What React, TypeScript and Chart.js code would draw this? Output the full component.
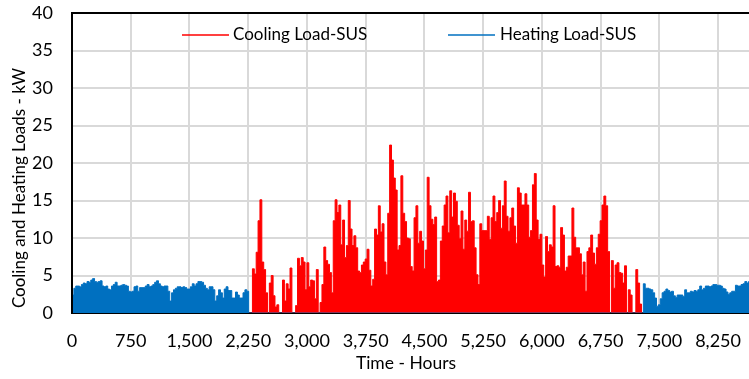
import React, { useEffect, useRef } from "react";
import { Chart, registerables } from "chart.js";

Chart.register(...registerables);

// ---- data (daily peak loads, kW) ----
const HOURS_PER_DAY = 24;
const DAYS_IN_YEAR = 365;
const seriesNames = ["Cooling Load-SUS", "Heating Load-SUS"];

const COOLING_START_DAY = 96;
const coolingDailyPeak = [
  5.9, 5.2, 8.1, 12.3, 15.1, 6.8, 5.8, 2.7, 0, 4.0,
  5.0, 2.3, 0.8, 1.1, 0, 0, 4.4, 1.6, 3.9, 3.2,
  6.0, 0, 0, 1.0, 7.3, 6.3, 7.4, 6.8, 3.1, 6.7,
  3.5, 4.4, 4.3, 1.9, 5.8, 0, 1.4, 3.8, 8.8, 7.0,
  6.5, 5.4, 2.7, 12.3, 15.1, 13.4, 14.4, 9.1, 12.4, 7.4,
  9.0, 15.0, 11.2, 9.0, 10.3, 8.7, 5.6, 5.4, 6.4, 6.8,
  7.2, 8.5, 5.7, 3.6, 4.5, 11.2, 10.4, 14.3, 10.8, 11.9,
  6.8, 5.1, 13.3, 22.4, 20.4, 18.0, 16.4, 8.4, 9.0, 18.3,
  13.3, 12.2, 10.0, 9.9, 6.2, 5.6, 12.7, 14.3, 9.3, 10.9,
  9.6, 5.9, 8.4, 18.1, 14.3, 12.5, 11.8, 12.8, 4.2, 4.4,
  9.6, 11.6, 14.4, 15.6, 10.7, 16.3, 12.8, 16.0, 14.9, 11.7,
  9.9, 13.6, 8.5, 12.4, 10.9, 16.1, 12.2, 12.3, 8.7, 5.1,
  3.8, 11.9, 11.0, 11.0, 11.0, 12.9, 9.8, 12.7, 15.6, 12.2,
  13.4, 15.0, 11.3, 14.3, 17.6, 12.9, 10.9, 12.7, 14.0, 11.6,
  9.3, 16.7, 16.0, 14.4, 14.4, 15.9, 14.4, 10.1, 11.0, 17.1,
  18.6, 12.4, 9.8, 10.5, 6.4, 4.8, 10.2, 8.2, 9.1, 8.8,
  14.3, 6.2, 6.3, 6.1, 11.4, 10.4, 5.6, 6.1, 7.6, 7.6,
  14.0, 10.1, 8.7, 8.7, 7.9, 5.1, 6.8, 2.9, 8.2, 8.7,
  10.4, 8.0, 6.5, 8.7, 10.5, 12.3, 14.4, 15.6, 14.3, 8.2,
  0, 7.0, 3.3, 6.4, 6.7, 5.4, 5.3, 4.0, 6.3, 0,
  3.1, 2.4, 0, 0, 5.8, 4.0, 1.2, 0,
];

const HEATING_EARLY_START_DAY = 0;
const heatingEarlyDailyPeak = [
  2.4, 3.3, 3.6, 3.6, 3.5, 3.8, 4.0, 3.9, 4.2, 4.1,
  4.4, 4.6, 4.2, 4.1, 4.2, 4.3, 3.6, 3.5, 3.6, 3.2,
  3.1, 3.6, 3.8, 4.1, 3.6, 3.6, 3.7, 3.8, 3.7, 3.6,
  2.9, 2.8, 2.9, 3.5, 3.6, 2.9, 3.4, 3.4, 3.4, 3.6,
  3.8, 3.5, 3.6, 3.8, 4.1, 4.3, 3.9, 3.6, 3.5, 3.6,
  3.6, 2.9, 1.6, 2.7, 3.1, 3.3, 3.5, 3.5, 3.4, 3.5,
  3.4, 3.2, 3.2, 3.5, 3.9, 3.6, 3.9, 4.2, 4.2, 4.1,
  3.7, 3.3, 3.1, 3.5, 3.5, 3.1, 1.6, 2.3, 3.1, 2.7,
  2.0, 3.2, 3.5, 3.0, 3.0, 2.0, 2.0, 2.8, 2.4, 2.0,
  2.0, 2.7, 3.1, 2.9,
];

const HEATING_LATE_START_DAY = 304;
const heatingLateDailyPeak = [
  3.9, 3.3, 3.3, 3.2, 3.1, 2.7, 2.0, 0.9, 1.1, 1.9,
  2.7, 2.9, 3.2, 3.0, 2.8, 2.9, 2.3, 2.1, 2.4, 2.4,
  2.4, 2.2, 3.1, 2.7, 2.7, 2.9, 2.8, 3.0, 2.9, 3.1,
  3.6, 3.1, 3.3, 3.6, 3.6, 3.5, 3.6, 3.8, 3.8, 3.7,
  3.7, 3.6, 3.3, 3.2, 2.8, 2.5, 2.7, 2.9, 2.9, 3.7,
  3.6, 3.6, 3.8, 3.9, 4.2, 4.0, 4.2, 4.3, 4.1, 4.0, 3.8,
];

const X_MAX_HOURS = 8760;
const X_STEP = 750;
const xTickLabels = ["0", "750", "1,500", "2,250", "3,000", "3,750", "4,500", "5,250", "6,000", "6,750", "7,500", "8,250"];
const Y_MAX = 40;
const Y_STEP = 5;
const yTickLabels = ["0", "5", "10", "15", "20", "25", "30", "35", "40"];
const xTitle = "Time - Hours";
const yTitle = "Cooling and Heating Loads - kW";

const COOL_COLOR = "#FF0000";
const HEAT_COLOR = "#0070C0";
const FONT = "Lato";

function buildSeries(parts: { start: number; values: number[] }[]) {
  const arr: { x: number; y: number }[] = [];
  for (let d = 0; d < DAYS_IN_YEAR; d++) {
    let v = 0;
    for (const p of parts) {
      const i = d - p.start;
      if (i >= 0 && i < p.values.length) v = p.values[i];
    }
    arr.push({ x: d * HOURS_PER_DAY + HOURS_PER_DAY / 2, y: v });
  }
  return arr;
}

const decorPlugin = {
  id: "decor",
  afterDraw(chart: any) {
    const ctx = chart.ctx as CanvasRenderingContext2D;
    const items = [
      { label: seriesNames[0], color: COOL_COLOR, x0: 182, x1: 229, tx: 233 },
      { label: seriesNames[1], color: HEAT_COLOR, x0: 448, x1: 495, tx: 500 },
    ];
    const y = 35;
    ctx.save();
    ctx.font = `17px ${FONT}`;
    ctx.textBaseline = "middle";
    ctx.textAlign = "left";
    for (const it of items) {
      ctx.strokeStyle = it.color;
      ctx.lineWidth = 1.5;
      ctx.beginPath();
      ctx.moveTo(it.x0, y);
      ctx.lineTo(it.x1, y);
      ctx.stroke();
      ctx.fillStyle = "#000";
      ctx.fillText(it.label, it.tx, y);
    }
    // axis titles
    ctx.fillStyle = "#000";
    ctx.textAlign = "center";
    ctx.font = `17.5px ${FONT}`;
    ctx.fillText(xTitle, 406, 363);
    ctx.translate(19.5, 188);
    ctx.rotate(-Math.PI / 2);
    ctx.font = `17px ${FONT}`;
    ctx.fillText(yTitle, 0, 0);
    ctx.restore();
  },
};

export default function App() {
  const ref = useRef<HTMLCanvasElement | null>(null);
  useEffect(() => {
    if (!ref.current) return;
    const cooling = buildSeries([{ start: COOLING_START_DAY, values: coolingDailyPeak }]);
    const heating = buildSeries([
      { start: HEATING_EARLY_START_DAY, values: heatingEarlyDailyPeak },
      { start: HEATING_LATE_START_DAY, values: heatingLateDailyPeak },
    ]);
    const chart = new Chart(ref.current, {
      type: "line",
      data: {
        datasets: [
          {
            label: seriesNames[1],
            data: heating,
            borderColor: HEAT_COLOR,
            backgroundColor: HEAT_COLOR,
            borderWidth: 1,
            pointRadius: 0,
            stepped: "middle",
            fill: "origin",
          },
          {
            label: seriesNames[0],
            data: cooling,
            borderColor: COOL_COLOR,
            backgroundColor: COOL_COLOR,
            borderWidth: 1,
            pointRadius: 0,
            stepped: "middle",
            fill: "origin",
          },
        ],
      },
      options: {
        animation: false,
        responsive: true,
        maintainAspectRatio: false,
        layout: { padding: { top: 13, right: 0, left: 0, bottom: 0 } },
        plugins: { legend: { display: false }, tooltip: { enabled: false } },
        scales: {
          x: {
            type: "linear",
            min: 0,
            max: X_MAX_HOURS,
            afterBuildTicks: (s: any) => {
              s.ticks = xTickLabels.map((_, i) => ({ value: i * X_STEP }));
            },
            afterFit: (s: any) => {
              s.height = 66;
              s.paddingRight = 0;
              s.paddingLeft = 0;
            },
            border: { color: "#000", width: 2 },
            grid: { color: "#d9d9d9", lineWidth: 2, drawTicks: false },
            ticks: {
              autoSkip: false,
              maxRotation: 0,
              padding: 17,
              color: "#000",
              font: { family: FONT, size: 18 },
              callback: (v: any) => xTickLabels[Math.round(Number(v) / X_STEP)] ?? "",
            },
          },
          y: {
            min: 0,
            max: Y_MAX,
            afterBuildTicks: (s: any) => {
              s.ticks = yTickLabels.map((_, i) => ({ value: i * Y_STEP }));
            },
            afterFit: (s: any) => {
              s.width = 72;
              s.paddingTop = 0;
              s.paddingBottom = 0;
            },
            border: { color: "#000", width: 2 },
            grid: {
              color: (c: any) => (c.tick && c.tick.value === Y_MAX ? "#000" : "#d9d9d9"),
              lineWidth: 2,
              drawTicks: false,
            },
            ticks: {
              padding: 19,
              color: "#000",
              font: { family: FONT, size: 18 },
              callback: (v: any) => yTickLabels[Math.round(Number(v) / Y_STEP)] ?? "",
            },
          },
        },
      },
      plugins: [decorPlugin],
    });
    return () => chart.destroy();
  }, []);

  return (
    <div style={{ position: "fixed", left: 0, top: 0, width: 749, height: 379, overflow: "hidden", background: "#fff" }}>
      <div style={{ position: "relative", width: 758, height: 379 }}>
        <canvas ref={ref} />
      </div>
    </div>
  );
}
